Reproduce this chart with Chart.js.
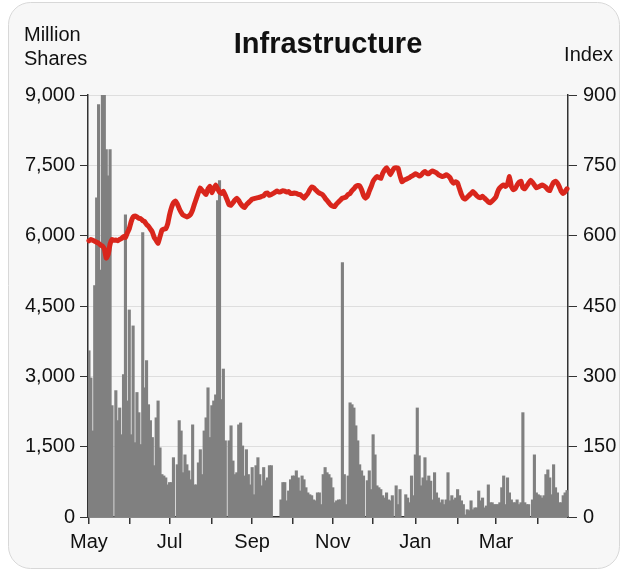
<!DOCTYPE html>
<html>
<head>
<meta charset="utf-8">
<script src="https://cdn.jsdelivr.net/npm/chart.js@4.4.0/dist/chart.umd.min.js"></script>
<style>
  html, body { margin: 0; padding: 0; background: #fff; }
</style>
</head>
<body>
<canvas id="chart" width="627" height="572"></canvas>
<script>
// daily volume, million shares (null = no trading / missing day)
var volume = [
  3540, 2960, 1830, 4930, 6800, 8790, 5260, 9100, 9100, 7830, 7270, 7830, 2370, null,
  2690, 2050, 2320, 1750, 3030, 6440, 2470, 4410, 1750, 4070, 1580, 2650, 2220, 1540, 6060, 2750, 3330, 2390, 2050, 1690, 1090,
  2110, 2470, 1470, 900, 870, 830, 680, 730, 730, 1260, null,
  1110, 2050, 1830, 940, 1320, 1110, 980, 790, 1960, 680, 680, 1150, 1430, 900, 1830, 2110, 2750, 1690, 2370, 2470, 2600, 6740, 7170, 2500, 3150, 1620, null,
  1620, 1940, 1190, 900, 940, 1960, 2000, 1510, 870, 1430, 900, 680, 1050, 470, 1090, 1260, 900, 660, 1050, 770, 830, 1090, 1090,
  null, null, null, null,
  360, 730, 730, 340, 550, 790, 870,
  870, 980, 830, 550, 870, 790, 620, 510, 470, 450, 360, 340, 510, 510, 260, 900, 1050, 940, 900, 830, 620, 300, 340, 360, 360, 5420, 900, 260, 870, 2430, 2390, 2320, 1940, 1620, 1110,
  980, 870, null, 770, 980, 580, 1750, 1320, 660, 620, 580, 450, 400, 510, 360, 340, 450, null, 660, 260, 580, null, null, 470, 400, 300, 870, 450, 1320, 2320, 1300, 660, 830, 1260, 770, 870, 760,
  360, 940, 510, 400, 300, 360, 260, 360, 940, 340, 450, 360, 400, 580, 450, 340, 260, 40, 150, 130, 340, 150, 190, 190, 550, 340, 400, 190, 230, 680, 300, 300, 260, 260, 260, 300,
  620, 870, 260, 830, 510, 360, 300, 300, 360, 260, 300, 2220, 300, 260, 260, null, 360, 1320, 510, 470, 450, 400, 450, 900, 1000, 830, 470, 1110, 620, 510, 300, 300, 450, 510, 560
];

// index level, right axis
var indexLevel = [
  589, 592, 590, 588, 586, 584, 580, 578, 572, 552,
  560, 582, 592, 590, 591, 589, 592, 594, 598, 596,
  606, 615, 630, 640, 642, 640, 637, 636, 632, 630,
  624, 620, 614, 608, 596, 590, 584, 598, 612, 614,
  615, 625, 645, 660, 670, 674, 668, 658, 650, 644,
  642, 640, 642, 646, 655, 668, 680, 692, 702, 696,
  692, 688, 700, 705, 692, 700, 708, 700, 693, 690,
  695, 686, 676, 666, 665, 670, 676, 680, 675, 668,
  663, 660, 666, 670, 674, 678, 679, 680, 681, 682,
  684, 685, 690, 691, 686, 688, 690, 693, 695, 693,
  694, 696, 695, 693, 694, 690, 690, 691, 690, 688,
  688, 684, 680, 685, 690, 698, 704, 702, 698, 694,
  691, 689, 686, 680, 675, 670, 665, 663, 662, 668,
  672, 676, 680, 681, 683, 688, 690, 696, 700, 705,
  707, 706, 698, 686, 680, 684, 695, 705, 716, 722,
  726, 724, 722, 733, 740, 745, 738, 730, 738, 744,
  745, 744, 728, 715, 718, 720, 722, 724, 727, 729,
  732, 730, 727, 729, 734, 737, 733, 732, 736, 738,
  736, 734, 730, 728, 726, 727, 730, 728, 724, 716,
  712, 715, 712, 700, 688, 680, 678, 682, 686, 690,
  694, 690, 685, 682, 681, 684, 680, 676, 672, 670,
  674, 678, 683, 695, 702, 706, 708, 705, 710, 726,
  705, 698, 700, 708, 714, 716, 702, 700, 706, 712,
  718, 714, 708, 702, 704, 706, 708, 706, 703, 698,
  696, 706, 714, 716, 712, 704, 694, 690, 694, 700
];

// first trading day of each month and its label
var monthStart = [0, 21, 42, 64, 85, 106, 127, 148, 170, 192, 212, 234];
var monthLabels = ['May', '', 'Jul', '', 'Sep', '', 'Nov', '', 'Jan', '', 'Mar', ''];

var days = volume.map(function (v, i) { return i; });

var FONT = '"Liberation Sans", Arial, sans-serif';
var INK = '#111';
var AXIS = '#333';

var card = {
  id: 'card',
  beforeDraw: function (chart) {
    var ctx = chart.ctx;
    ctx.save();
    ctx.beginPath();
    ctx.roundRect(8.5, 2.5, 611, 566, 22);
    ctx.fillStyle = '#f7f7f7';
    ctx.fill();
    ctx.strokeStyle = '#d8d8d8';
    ctx.lineWidth = 1;
    ctx.stroke();
    ctx.restore();
  },
  afterDraw: function (chart) {
    var ctx = chart.ctx, ca = chart.chartArea;
    ctx.save();
    ctx.fillStyle = INK;
    ctx.textBaseline = 'alphabetic';
    ctx.font = 'bold 29px ' + FONT;
    ctx.textAlign = 'center';
    ctx.fillText('Infrastructure', (ca.left + ca.right) / 2, 53);
    ctx.font = '20px ' + FONT;
    ctx.textAlign = 'left';
    ctx.fillText('Million', 24, 41);
    ctx.fillText('Shares', 24, 65);
    ctx.textAlign = 'right';
    ctx.fillText('Index', 613, 61);
    ctx.restore();
  }
};

new Chart(document.getElementById('chart').getContext('2d'), {
  data: {
    labels: days,
    datasets: [{
      type: 'line',
      data: indexLevel,
      yAxisID: 'y1',
      borderColor: '#d9261c',
      borderWidth: 5,
      pointRadius: 0,
      tension: 0.1,
      borderJoinStyle: 'round',
      borderCapStyle: 'round',
      order: 0
    }, {
      type: 'bar',
      data: volume,
      yAxisID: 'y',
      backgroundColor: '#808080',
      barPercentage: 1,
      categoryPercentage: 1,
      inflateAmount: 0.6,
      order: 1
    }]
  },
  options: {
    responsive: false,
    animation: false,
    devicePixelRatio: 1,
    layout: { padding: { top: 95, left: 0, right: 0, bottom: 0 } },
    plugins: { legend: { display: false }, tooltip: { enabled: false } },
    scales: {
      x: {
        type: 'category',
        offset: true,
        grid: { drawOnChartArea: false, offset: false, tickLength: 7, tickColor: AXIS, lineWidth: 1.5 },
        border: { color: AXIS, width: 1.5 },
        ticks: {
          autoSkip: false, maxRotation: 0, padding: 6, color: INK,
          font: { family: FONT, size: 20 },
          callback: function (v, i) { return monthLabels[i]; }
        },
        afterBuildTicks: function (s) { s.ticks = monthStart.map(function (v) { return { value: v }; }); },
        afterFit: function (s) { s.height = 55; }
      },
      y: {
        position: 'left', min: 0, max: 9000,
        ticks: { stepSize: 1500, padding: 5, color: INK, font: { family: FONT, size: 20 } },
        grid: { color: '#dedede', tickLength: 8, tickColor: AXIS },
        border: { color: AXIS, width: 1.5 },
        afterFit: function (s) { s.width = 88; }
      },
      y1: {
        position: 'right', min: 0, max: 900,
        ticks: { stepSize: 150, padding: 6, color: INK, font: { family: FONT, size: 20 } },
        grid: { drawOnChartArea: false, tickLength: 9, tickColor: AXIS },
        border: { color: AXIS, width: 1.5 },
        afterFit: function (s) { s.width = 59; }
      }
    }
  },
  plugins: [card]
});
</script>
</body>
</html>
